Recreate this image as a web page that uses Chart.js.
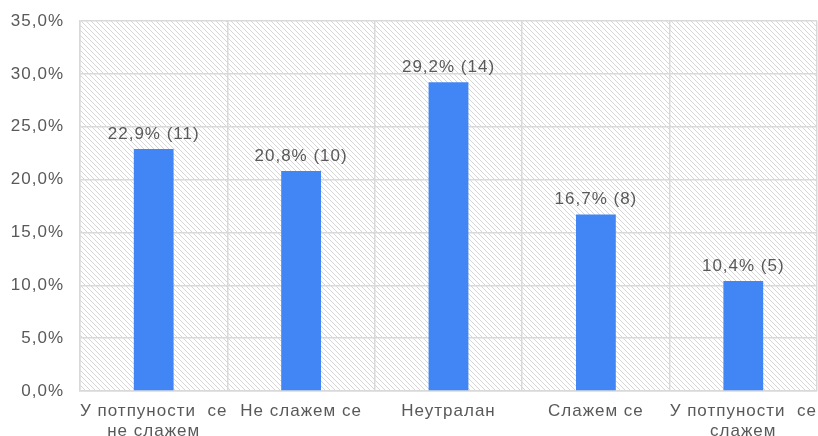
<!DOCTYPE html>
<html>
<head>
<meta charset="utf-8">
<script src="https://cdn.jsdelivr.net/npm/chart.js@4.4.1/dist/chart.umd.min.js"></script>
<style>
  html, body { margin: 0; padding: 0; background: #fff; }
  #wrap { width: 818px; height: 436px; }
</style>
</head>
<body>
<div id="wrap"><canvas id="chart" width="818" height="436"></canvas></div>
<script>
// chart data
const categories = [
    ['У потпуности  се', 'не слажем'],
    'Не слажем се',
    'Неутралан',
    'Слажем се',
    ['У потпуности  се', 'слажем']
];
const percentValues = [22.9, 20.8, 29.2, 16.7, 10.4];
const counts = [11, 10, 14, 8, 5];
const yTicks = [0, 5, 10, 15, 20, 25, 30, 35];

const textColor = '#595959';
const gridColor = '#d9d9d9';
const fontFamily = 'Liberation Sans, Arial, sans-serif';

function fmt(v) {
    return v.toFixed(1).replace('.', ',') + '%';
}

// diagonal hatch fill for the plot area
function makeHatch() {
    const c = document.createElement('canvas');
    c.width = 5;
    c.height = 5;
    const g = c.getContext('2d');
    g.strokeStyle = '#d6d6d6';
    g.lineWidth = 1;
    g.beginPath();
    g.moveTo(-1, -1); g.lineTo(6, 6);
    g.moveTo(-1, 4); g.lineTo(1, 6);
    g.moveTo(4, -1); g.lineTo(6, 1);
    g.stroke();
    return g.createPattern(c, 'repeat');
}

// text in the original is a bit wider than plain Arial
const wideText = {
    id: 'wideText',
    beforeLayout(chart) { chart.ctx.letterSpacing = '1px'; },
    beforeDraw(chart) { chart.ctx.letterSpacing = '1px'; }
};

const hatchBackground = {
    id: 'hatchBackground',
    beforeDraw(chart) {
        const { ctx, chartArea: a } = chart;
        ctx.save();
        ctx.fillStyle = makeHatch();
        ctx.fillRect(a.left, a.top, a.right - a.left, a.bottom - a.top);
        ctx.restore();
    }
};

const barLabels = {
    id: 'barLabels',
    afterDatasetsDraw(chart) {
        const { ctx } = chart;
        const meta = chart.getDatasetMeta(0);
        ctx.save();
        ctx.font = '17px ' + fontFamily;
        ctx.fillStyle = textColor;
        ctx.textAlign = 'center';
        ctx.textBaseline = 'alphabetic';
        meta.data.forEach((bar, i) => {
            ctx.fillText(fmt(percentValues[i]) + ' (' + counts[i] + ')', bar.x, bar.y - 10);
        });
        ctx.restore();
    }
};

const ctx = document.getElementById('chart').getContext('2d');
new Chart(ctx, {
    type: 'bar',
    data: {
        labels: categories,
        datasets: [{
            data: percentValues,
            backgroundColor: '#4285f4',
            barPercentage: 0.54,
            categoryPercentage: 0.5
        }]
    },
    options: {
        responsive: false,
        animation: false,
        layout: { padding: { top: 21, right: 1, left: 0, bottom: 0 } },
        plugins: {
            legend: { display: false },
            tooltip: { enabled: false }
        },
        scales: {
            x: {
                grid: { color: gridColor, lineWidth: 1.5, offset: true, drawTicks: false },
                border: { color: gridColor, width: 1.5 },
                ticks: {
                    color: textColor,
                    font: { family: fontFamily, size: 17, lineHeight: 1.15 },
                    padding: 11,
                    maxRotation: 0,
                    autoSkip: false
                },
                afterFit(scale) {
                    scale.height = 45;
                    scale.paddingLeft = 0;
                    scale.paddingRight = 0;
                }
            },
            y: {
                min: 0,
                max: 35,
                afterBuildTicks(scale) {
                    scale.ticks = yTicks.map(v => ({ value: v }));
                },
                grid: { color: gridColor, lineWidth: 1.5, drawTicks: false },
                border: { color: gridColor, width: 1.5 },
                ticks: {
                    color: textColor,
                    font: { family: fontFamily, size: 17 },
                    padding: 16,
                    callback: v => fmt(v)
                },
                afterFit(scale) {
                    scale.width = 80;
                    scale.paddingTop = 0;
                    scale.paddingBottom = 0;
                }
            }
        }
    },
    plugins: [wideText, hatchBackground, barLabels]
});
</script>
</body>
</html>
